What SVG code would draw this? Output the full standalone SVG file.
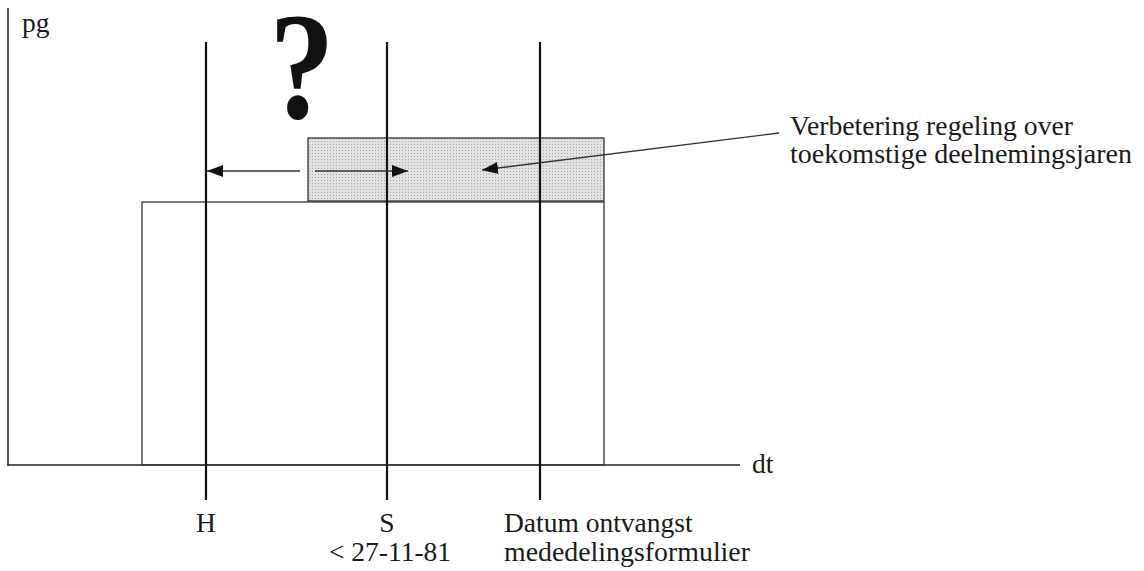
<svg xmlns="http://www.w3.org/2000/svg" width="1144" height="571" viewBox="0 0 1144 571">
<style>
.ax{stroke:#222;stroke-width:1.5;fill:none}
.vl{stroke:#111;stroke-width:2.2;fill:none}
.ln{stroke:#333;stroke-width:1.3;fill:none}
.t{font-family:"Liberation Serif","Times New Roman",serif;font-size:27.5px;fill:#1a1a1a}
</style>
<defs>
<marker id="ah" viewBox="0 0 16 12" refX="16" refY="6" markerWidth="16" markerHeight="12" markerUnits="userSpaceOnUse" orient="auto">
<path d="M0,0 L16,6 L0,12 z" fill="#111"/>
</marker>
<pattern id="dots" width="3" height="3" patternUnits="userSpaceOnUse">
<rect width="3" height="3" fill="#e2e2e2"/>
<rect width="1" height="1" fill="#a8a8a8"/>
</pattern>
</defs>
<rect width="1144" height="571" fill="#fff"/>
<g id="axes">
<line class="ax" x1="8" y1="8" x2="8" y2="466"/>
<line class="ax" x1="8" y1="465" x2="740" y2="465"/>
<text class="t" x="22" y="32">pg</text>
<text class="t" x="752" y="473">dt</text>
</g>
<g id="base-block">
<rect class="ln" x="142" y="202" width="462" height="263"/>
</g>
<g id="improvement-block">
<rect x="308" y="138" width="296" height="63" fill="url(#dots)" stroke="#333" stroke-width="1.3"/>
</g>
<g id="question">
<text transform="translate(302,118) scale(0.86,1)" x="0" y="0" text-anchor="middle" font-family="Liberation Serif,serif" font-weight="bold" font-size="152" fill="#111">?</text>
</g>
<g id="line-H">
<line class="vl" x1="206" y1="42" x2="206" y2="500"/>
<text class="t" x="206" y="532" text-anchor="middle">H</text>
</g>
<g id="line-S">
<line class="vl" x1="387" y1="42" x2="387" y2="500"/>
<text class="t" x="387" y="532" text-anchor="middle">S</text>
<text class="t" x="390" y="561" text-anchor="middle">&lt; 27-11-81</text>
</g>
<g id="line-D">
<line class="vl" x1="540" y1="42" x2="540" y2="500"/>
<text class="t" x="504" y="532">Datum ontvangst</text>
<text class="t" x="504" y="561" textLength="246" lengthAdjust="spacingAndGlyphs">mededelingsformulier</text>
</g>
<g id="label">
<text class="t" x="790" y="135" textLength="283" lengthAdjust="spacingAndGlyphs">Verbetering regeling over</text>
<text class="t" x="790" y="163" textLength="342" lengthAdjust="spacingAndGlyphs">toekomstige deelnemingsjaren</text>
</g>
<g id="connectors">
<line class="ln" x1="300" y1="171" x2="207" y2="171" marker-end="url(#ah)"/>
<line class="ln" x1="315" y1="171" x2="408" y2="171" marker-end="url(#ah)"/>
<line class="ln" x1="779" y1="133" x2="482" y2="170" marker-end="url(#ah)"/>
</g>
</svg>
